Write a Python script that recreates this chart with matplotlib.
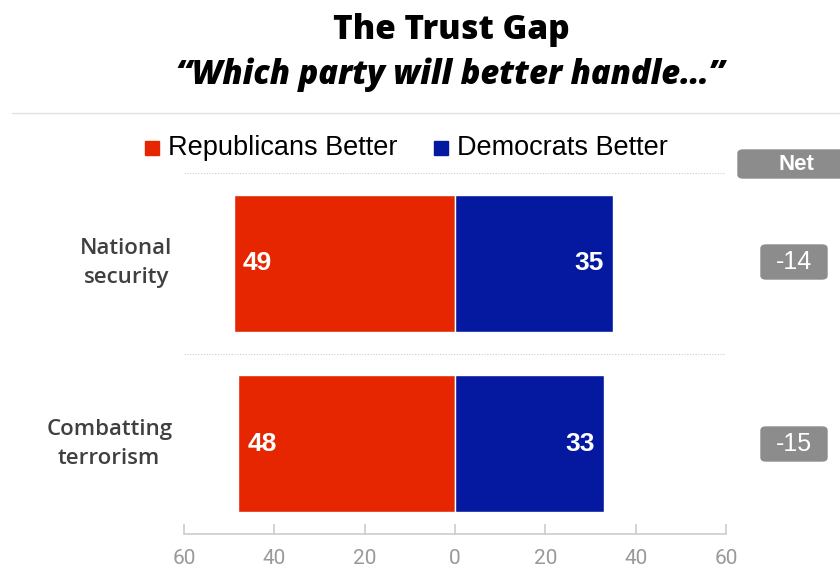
import matplotlib
matplotlib.use("Agg")
import matplotlib.pyplot as plt
from matplotlib.patches import FancyBboxPatch
from matplotlib.lines import Line2D

categories = ["National\nsecurity", "Combatting\nterrorism"]
republicans = [49, 48]
democrats = [35, 33]
net = ["-14", "-15"]
ticks = [-60, -40, -20, 0, 20, 40, 60]
tick_labels = ["60", "40", "20", "0", "20", "40", "60"]

RED = "#E52600"
BLUE = "#0419A0"

W, H = 840, 570
fig = plt.figure(figsize=(W / 100, H / 100), dpi=100)

def fx(px):
    return px / W

def fy(py):
    return 1 - py / H

ax = fig.add_axes([fx(184), fy(534), fx(726) - fx(184), fy(173) - fy(534)])
ys = list(range(len(categories)))
ax.barh(ys, [-r for r in republicans], height=0.76, color=RED, edgecolor="white", linewidth=1)
ax.barh(ys, democrats, height=0.76, color=BLUE, edgecolor="white", linewidth=1)
ax.set_xlim(-60, 60)
ax.set_ylim(len(categories) - 0.5, -0.5)

for y, r, d in zip(ys, republicans, democrats):
    ax.text(-r + 2, y, str(r), color="white", fontsize=19, fontweight="bold",
            ha="left", va="center", family="Liberation Sans")
    ax.text(d - 2, y, str(d), color="white", fontsize=19, fontweight="bold",
            ha="right", va="center", family="Liberation Sans")

# separators
for b in [-0.5, 0.5]:
    ax.axhline(b, color="#cccccc", linestyle=(0, (1, 1.5)), linewidth=0.8)

for s in ["top", "right", "left"]:
    ax.spines[s].set_visible(False)
ax.spines["bottom"].set_color("#cccccc")
ax.spines["bottom"].set_linewidth(1.2)
ax.set_yticks([])
ax.set_xticks(ticks)
ax.set_xticklabels(tick_labels)
ax.tick_params(axis="x", direction="in", length=7, width=1.2, color="#cccccc",
               labelcolor="#999999", labelsize=15, pad=11)
for lab in ax.get_xticklabels():
    lab.set_family("Roboto")
    lab.set_fontweight("normal")

# category labels
for y, c in zip(ys, categories):
    ax.text(-62.6, y, c, ha="right", va="center", multialignment="center",
            fontsize=16, color="#404040",
            family="Open Sans", fontweight="semibold", linespacing=1.5,
            transform=ax.transData, clip_on=False)

# title
fig.text(0.5375, fy(30), "The Trust Gap", ha="center", va="center", fontsize=24,
         fontweight="heavy", family="Open Sans", color="black")
fig.text(0.536, fy(75), "\u201cWhich party will better handle\u2026\u201d", ha="center",
         va="center", fontsize=23.5, fontweight="heavy", style="italic",
         family="Open Sans", color="black")
fig.add_artist(Line2D([fx(12), 1], [fy(113), fy(113)], color="#e3e3e3", linewidth=1))

# legend
fig.add_artist(FancyBboxPatch((fx(145), fy(155)), fx(14), fy(141) - fy(155),
                              boxstyle="square,pad=0", color=RED))
fig.text(fx(168), fy(148), "Republicans Better", ha="left", va="center", fontsize=19.5,
         family="Liberation Sans", color="black")
fig.add_artist(FancyBboxPatch((fx(434), fy(155)), fx(14), fy(141) - fy(155),
                              boxstyle="square,pad=0", color=BLUE))
fig.text(fx(457), fy(148), "Democrats Better", ha="left", va="center", fontsize=19.5,
         family="Liberation Sans", color="black")

# net header
GRAY = "#8c8c8c"
fig.add_artist(FancyBboxPatch((fx(738), fy(178)), fx(110), fy(150) - fy(178),
                              boxstyle="round,pad=0,rounding_size=0.006", color=GRAY))
fig.text(fx(796), fy(164), "Net", ha="center", va="center", fontsize=16,
         fontweight="bold", color="white", family="Liberation Sans")

net_y = [262, 444]
for ny, n in zip(net_y, net):
    fig.add_artist(FancyBboxPatch((fx(761), fy(ny + 17)), fx(66), fy(ny - 17) - fy(ny + 17),
                                  boxstyle="round,pad=0,rounding_size=0.006", color=GRAY))
    fig.text(fx(794), fy(ny), n, ha="center", va="center", fontsize=18,
             color="white", family="Liberation Sans")

fig.savefig("out.png", dpi=100)
